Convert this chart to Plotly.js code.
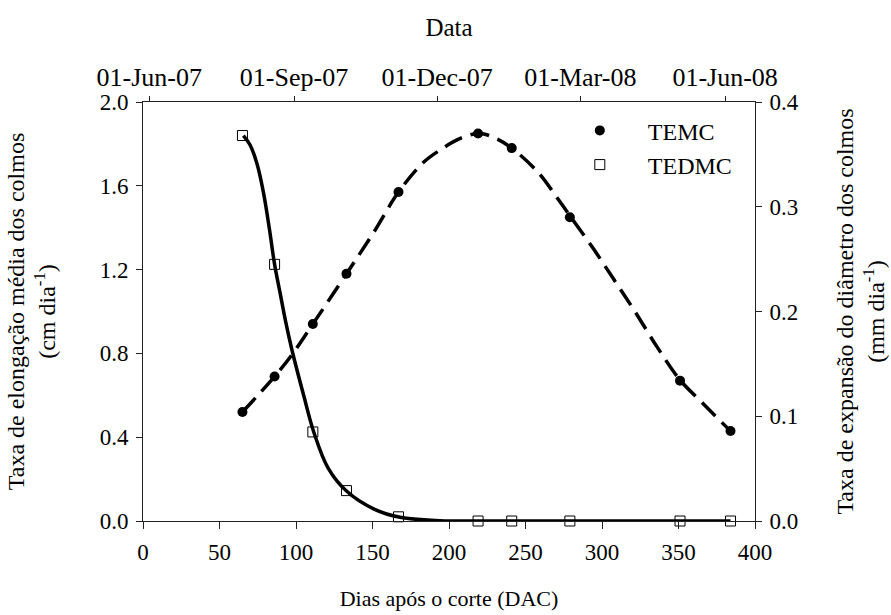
<!DOCTYPE html>
<html><head><meta charset="utf-8">
<script src="https://cdn.plot.ly/plotly-3.0.1.min.js"></script>
<style>body{margin:0;background:#fff}</style>
</head><body><div id="chart" style="width:891px;height:615px"></div>
<script>
// Observed data (days after cut)
const days = [65, 86, 111, 133, 167, 219, 241, 279, 351, 384];
const temc = [0.52, 0.69, 0.94, 1.18, 1.57, 1.85, 1.78, 1.45, 0.67, 0.43];
const tedmc = [0.368, 0.245, 0.085, 0.029, 0.004, 0, 0, 0, 0, 0];

// Fitted curves
const temcFitDays = [65, 86, 98, 111, 133, 151, 167, 183, 194, 207, 220, 231, 241, 258, 271, 280, 295, 308, 321, 336, 351, 366, 384];
const temcFit = [0.52, 0.69, 0.80, 0.94, 1.18, 1.38, 1.57, 1.71, 1.77, 1.825, 1.85, 1.825, 1.78, 1.666, 1.539, 1.447, 1.293, 1.15, 1.006, 0.831, 0.673, 0.561, 0.429];
const tedmcFitDays = [65.6, 70, 74.5, 78.8, 82.7, 86, 89.7, 93, 97.4, 105, 111.6, 121, 133, 151, 168, 194, 230, 300, 384];
const tedmcFit = [0.368, 0.359, 0.341, 0.313, 0.278, 0.245, 0.217, 0.192, 0.163, 0.120, 0.085, 0.0505, 0.0286, 0.0114, 0.0035, 0.0003, 0, 0, 0];

// Top date axis
const dateTickVals = ['2007-06-01', '2007-09-01', '2007-12-01', '2008-03-01', '2008-06-01'];
const dateTickText = ['01-Jun-07', '01-Sep-07', '01-Dec-07', '01-Mar-08', '01-Jun-08'];
const dateRange = ['2007-05-28', '2008-06-20'];

const FONT = 'Liberation Serif, Times New Roman, serif';
const AX = '#222';
const f = (s) => ({family: FONT, size: s, color: '#000'});

const traces = [
  {x: temcFitDays, y: temcFit, mode: 'lines', line: {color: '#000', width: 3.5, dash: '19px,9px', shape: 'spline', smoothing: 1}, showlegend: false, hoverinfo: 'skip', xaxis: 'x', yaxis: 'y'},
  {x: tedmcFitDays, y: tedmcFit, mode: 'lines', line: {color: '#000', width: 3.5, shape: 'spline', smoothing: 1}, showlegend: false, hoverinfo: 'skip', xaxis: 'x', yaxis: 'y2'},
  {x: days, y: temc, name: 'TEMC', mode: 'markers', marker: {symbol: 'circle', size: 10, color: '#000'}, xaxis: 'x', yaxis: 'y'},
  {x: days, y: tedmc, name: 'TEDMC', mode: 'markers', marker: {symbol: 'square-open', size: 10, color: '#000', line: {width: 1, color: '#000'}}, xaxis: 'x', yaxis: 'y2', cliponaxis: false},
  {x: dateTickVals, y: [null, null, null, null, null], mode: 'markers', showlegend: false, hoverinfo: 'skip', xaxis: 'x2', yaxis: 'y'}
];

const baseAxis = {showline: true, linecolor: AX, linewidth: 1, ticks: 'outside', tickcolor: AX, tickwidth: 1, showgrid: false, zeroline: false, fixedrange: true, tickfont: f(23)};

const layout = {
  width: 891, height: 615,
  margin: {l: 143, r: 136, t: 102, b: 94, pad: 0},
  paper_bgcolor: '#fff', plot_bgcolor: '#fff',
  font: f(22),
  showlegend: true,
  legend: {x: 0.668, y: 0.985, xanchor: 'left', yanchor: 'top', font: f(24), bgcolor: 'rgba(0,0,0,0)', itemwidth: 86, tracegroupgap: 0},
  xaxis: Object.assign({}, baseAxis, {range: [0, 400], tick0: 0, dtick: 50, ticklen: 7, ticklabelstandoff: 3, title: {text: 'Dias após o corte (DAC)', font: f(22), standoff: 27}}),
  xaxis2: Object.assign({}, baseAxis, {overlaying: 'x', side: 'top', type: 'date', range: dateRange, tickmode: 'array', tickvals: dateTickVals, ticktext: dateTickText, ticklen: 5, anchor: 'y', tickfont: f(26), title: {text: 'Data', font: f(25), standoff: 18}}),
  yaxis: Object.assign({}, baseAxis, {range: [0, 2.0], tick0: 0, dtick: 0.4, tickformat: '.1f', ticklen: 6, ticklabelstandoff: 3, title: {text: 'Taxa de elongação média dos colmos<br>(cm dia<sup>-1</sup>)', font: f(24), standoff: 37}}),
  yaxis2: Object.assign({}, baseAxis, {overlaying: 'y', side: 'right', anchor: 'x', range: [0, 0.4], tick0: 0, dtick: 0.1, tickformat: '.1f', ticklen: 6, ticklabelstandoff: 3, title: {text: 'Taxa de expansão do diâmetro dos colmos<br>(mm dia<sup>-1</sup>)', font: f(24), standoff: 38}})
};

Plotly.newPlot('chart', traces, layout, {displayModeBar: false, staticPlot: true});
</script>
</body></html>
